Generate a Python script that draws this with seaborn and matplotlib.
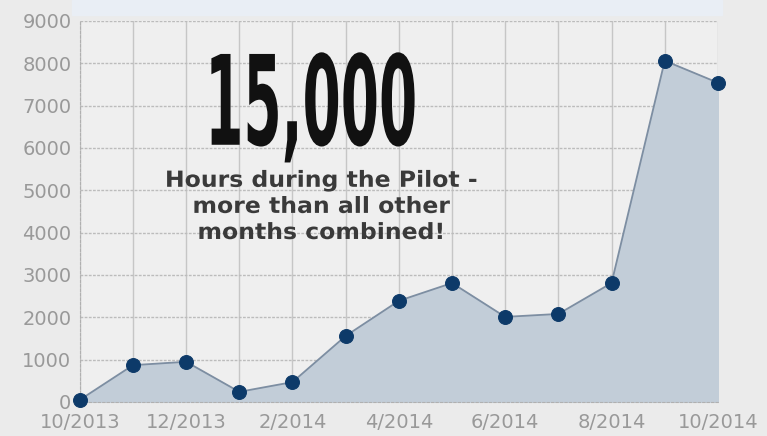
import pandas as pd
import matplotlib.pyplot as plt
import seaborn as sns
from matplotlib.patches import Rectangle
from matplotlib.transforms import Affine2D
import matplotlib.patheffects as pe

months = ['10/2013', '11/2013', '12/2013', '1/2014', '2/2014', '3/2014', '4/2014',
          '5/2014', '6/2014', '7/2014', '8/2014', '9/2014', '10/2014']
hours = [50, 870, 950, 240, 470, 1560, 2390, 2810, 2010, 2080, 2810, 8060, 7540]
ytick_vals = [0, 1000, 2000, 3000, 4000, 5000, 6000, 7000, 8000, 9000]


# stretch text around its centre / baseline (the big number uses a very narrow, tall font)
class Stretch(pe.AbstractPathEffect):
    def __init__(self, sx, sy=1.0):
        super().__init__()
        self.sx = sx
        self.sy = sy

    def draw_path(self, renderer, gc, tpath, affine, rgbFace=None):
        bb = tpath.get_extents(affine)
        cx = (bb.x0 + bb.x1) / 2
        cy = affine.transform((0, 0))[1]
        a = affine + Affine2D().translate(-cx, -cy).scale(self.sx, self.sy).translate(cx, cy)
        renderer.draw_path(gc, tpath, a, rgbFace)


df = pd.DataFrame({'month': months, 'hours': hours})
df['idx'] = range(len(df))

sns.set_style("whitegrid")
plt.rcParams['font.family'] = ['DejaVu Sans']

fig = plt.figure(figsize=(7.67, 4.36), dpi=100, facecolor='#ebebeb')
ax = fig.add_axes([0.104, 0.078, 0.832, 0.874])
ax.set_facecolor('#efefef')

# light band at top
fig.patches.append(Rectangle((72 / 767, 1 - 15 / 436), 650 / 767, 15 / 436,
                             transform=fig.transFigure, color='#e9eef5', zorder=0))

ax.fill_between(df['idx'], df['hours'], 0, color='#c2cdd8', zorder=1)
sns.lineplot(data=df, x='idx', y='hours', ax=ax, color='#7d8ea2', linewidth=1.3,
             marker='o', markersize=10, markerfacecolor='#0d3a69',
             markeredgecolor='#0d3a69', zorder=3, clip_on=False)

ax.set_xlim(0, 12)
ax.set_ylim(0, 9000)
ax.set_xticks(df['idx'])
ax.set_xticklabels([m if i % 2 == 0 else '' for i, m in enumerate(months)])
ax.set_yticks(ytick_vals)
ax.set_yticklabels([str(v) for v in ytick_vals])
ax.tick_params(axis='both', colors='#999999', labelsize=14, length=0)
ax.tick_params(axis='x', pad=8)
ax.tick_params(axis='y', pad=6)
ax.set_xlabel('')
ax.set_ylabel('')

ax.grid(axis='x', color='#c6c6c6', linewidth=1, linestyle='-')
ax.grid(axis='y', color='#bcbcbc', linewidth=1, linestyle=(0, (2, 1)))
for s in ['top', 'right']:
    ax.spines[s].set_visible(False)
ax.spines['left'].set_color('#b0b0b0')
ax.spines['left'].set_linestyle((0, (2, 2)))
ax.spines['bottom'].set_color('#b0b0b0')
ax.spines['bottom'].set_linestyle((0, (2, 2)))

ax.text(0.362, 0.675, '15,000', transform=ax.transAxes, ha='center', va='baseline',
        fontsize=46, fontweight='bold', color='#111111', family='DejaVu Sans',
        path_effects=[Stretch(0.86, 1.95)])
ax.text(0.379, 0.512, 'Hours during the Pilot -\nmore than all other\nmonths combined!',
        transform=ax.transAxes, ha='center', va='center', fontsize=16,
        fontweight='bold', color='#3a3a3a', linespacing=1.38, family='DejaVu Sans',
        path_effects=[Stretch(1.06)])

plt.savefig('out.png', dpi=100, facecolor=fig.get_facecolor())
